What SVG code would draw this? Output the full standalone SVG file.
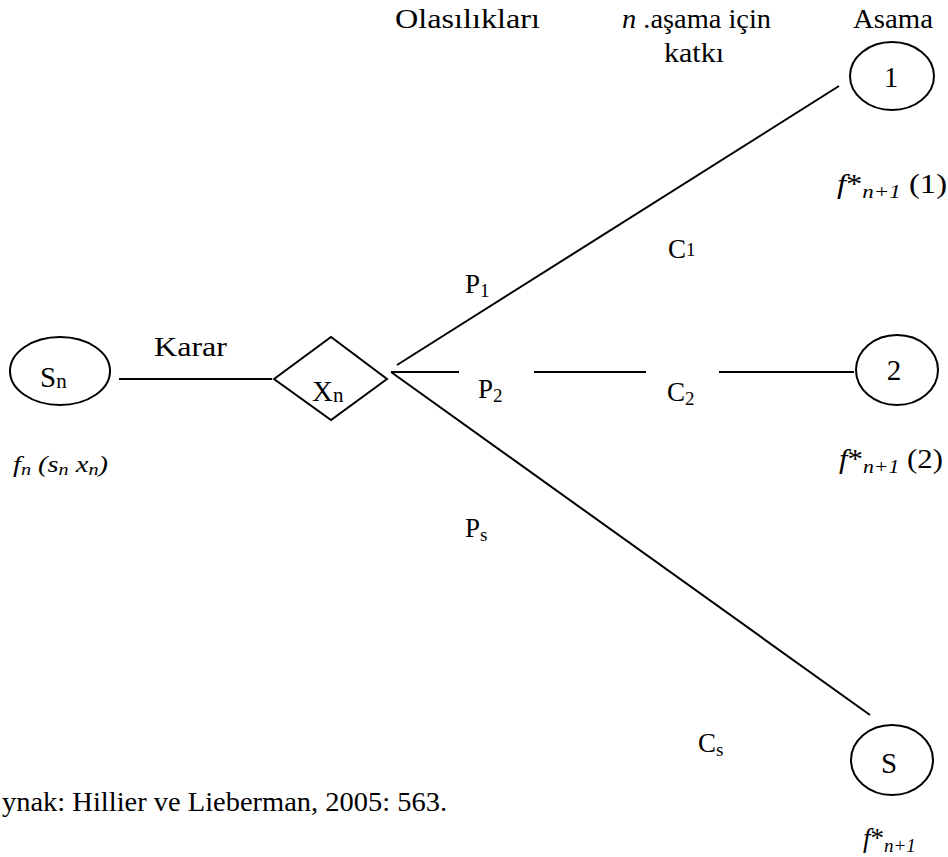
<svg xmlns="http://www.w3.org/2000/svg" width="948" height="857" viewBox="0 0 948 857" font-family="'Liberation Serif', 'Times New Roman', 'DejaVu Serif', serif">
<style>
text{font-family:'Liberation Serif','Times New Roman','DejaVu Serif',serif}
.t{font-size:27px;fill:#000}
.i{font-style:italic}
.sub{font-size:19px}
.node{fill:#fff;stroke:#000;stroke-width:2}
.edge{stroke:#000;stroke-width:2;fill:none}
</style>
<rect width="948" height="857" fill="#fff"/>
<g id="connectors">
<line class="edge" x1="119" y1="379" x2="272" y2="379"/>
<line class="edge" x1="397" y1="365" x2="839" y2="86"/>
<line class="edge" x1="391" y1="372" x2="459" y2="372"/>
<line class="edge" x1="534" y1="372" x2="646" y2="372"/>
<line class="edge" x1="719" y1="372" x2="854" y2="372"/>
<line class="edge" x1="391" y1="372" x2="870" y2="715"/>
</g>
<g id="node-sn">
<ellipse class="node" cx="60" cy="371" rx="50" ry="34"/>
<text class="t" x="40" y="387" style="font-size:29px">S<tspan class="sub" dy="1" style="font-size:21px">n</tspan></text>
</g>
<g id="node-xn">
<polygon class="node" points="274,379 331,337 387,379 331,420"/>
<text class="t" x="312" y="401" style="font-size:29px">X<tspan class="sub" dy="1" style="font-size:21px">n</tspan></text>
</g>
<g id="node-1">
<ellipse class="node" cx="892" cy="76" rx="42" ry="34"/>
<text class="t" x="891" y="87" text-anchor="middle" style="font-size:29px">1</text>
</g>
<g id="node-2">
<ellipse class="node" cx="897" cy="370" rx="41" ry="35"/>
<text class="t" x="894" y="380" text-anchor="middle" style="font-size:29px">2</text>
</g>
<g id="node-s">
<ellipse class="node" cx="892" cy="760" rx="41" ry="35"/>
<text class="t" x="889" y="773" text-anchor="middle" style="font-size:29px">S</text>
</g>
<g id="labels">
<text class="t" x="395" y="28" textLength="145" lengthAdjust="spacingAndGlyphs">Olasılıkları</text>
<text class="t" x="622" y="28" textLength="149" lengthAdjust="spacingAndGlyphs"><tspan class="i">n</tspan> .aşama için</text>
<text class="t" x="664" y="62" textLength="60" lengthAdjust="spacingAndGlyphs">katkı</text>
<text class="t" x="853" y="28" textLength="80" lengthAdjust="spacingAndGlyphs">Asama</text>
<text class="t" x="154" y="356" textLength="73" lengthAdjust="spacingAndGlyphs">Karar</text>
<text class="t" x="837" y="193" textLength="110" lengthAdjust="spacingAndGlyphs"><tspan class="i">f</tspan>*<tspan class="sub i" dy="5">n+1</tspan><tspan dy="-5"> (1)</tspan></text>
<text class="t" x="668" y="258">C<tspan class="sub" dy="-2">1</tspan></text>
<text class="t" x="465" y="293">P<tspan class="sub" dy="4">1</tspan></text>
<text class="t" x="478" y="398">P<tspan class="sub" dy="4">2</tspan></text>
<text class="t" x="667" y="401">C<tspan class="sub" dy="4">2</tspan></text>
<text class="t" x="839" y="468" textLength="104" lengthAdjust="spacingAndGlyphs"><tspan class="i">f</tspan>*<tspan class="sub i" dy="5">n+1</tspan><tspan dy="-5"> (2)</tspan></text>
<text class="t i" x="13" y="472" style="font-size:24px" textLength="95" lengthAdjust="spacingAndGlyphs">f<tspan style="font-size:17px" dy="3">n</tspan><tspan dy="-3"> (s</tspan><tspan style="font-size:17px" dy="3">n</tspan><tspan dy="-3">  x</tspan><tspan style="font-size:17px" dy="3">n</tspan><tspan dy="-3">)</tspan></text>
<text class="t" x="465" y="537">P<tspan class="sub" dy="4">s</tspan></text>
<text class="t" x="698" y="752">C<tspan class="sub" dy="4">s</tspan></text>
<text class="t" x="2" y="811" textLength="445" lengthAdjust="spacingAndGlyphs">ynak: Hillier ve Lieberman, 2005: 563.</text>
<text class="t" x="863" y="847"><tspan class="i">f</tspan>*<tspan class="sub i" dy="5">n+1</tspan></text>
</g>
</svg>
